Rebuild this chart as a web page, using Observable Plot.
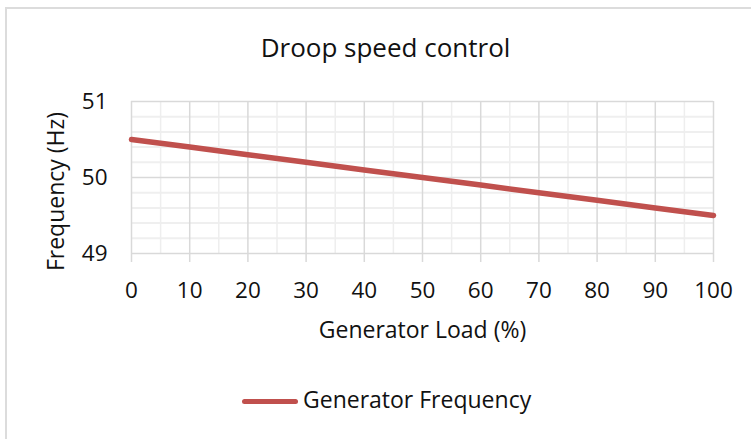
<!DOCTYPE html>
<html>
<head>
<meta charset="utf-8">
<script src="https://cdn.jsdelivr.net/npm/d3@7"></script>
<script src="https://cdn.jsdelivr.net/npm/@observablehq/plot@0.6"></script>
<style>
  html, body { margin: 0; padding: 0; background: #fff; }
  #chart { position: relative; width: 751px; height: 439px; overflow: hidden; font-family: "Open Sans", sans-serif; }
  #border { position: absolute; left: 5px; top: 7px; width: 900px; height: 600px; border: 2px solid #dcdcdc; box-sizing: border-box; }
  #plot { position: absolute; left: 0; top: 0; }
  #legend { position: absolute; left: 0; top: 375px; width: 751px; height: 64px; }
  #legend .swatch { position: absolute; left: 242px; top: 24px; width: 56px; height: 5px; border-radius: 3px; background: #C0504D; }
  #legend .label { position: absolute; left: 303px; top: 13px; font-size: 23px; line-height: 1; color: #111; white-space: nowrap; }
</style>
</head>
<body>
<div id="chart">
  <div id="border"></div>
  <div id="plot"></div>
  <div id="legend"><div class="swatch"></div><div class="label"></div></div>
</div>
<script>
const title = "Droop speed control";
const xLabel = "Generator Load (%)";
const yLabel = "Frequency (Hz)";
const seriesName = "Generator Frequency";
const loads = [0, 10, 20, 30, 40, 50, 60, 70, 80, 90, 100];
const frequency = [50.5, 50.4, 50.3, 50.2, 50.1, 50.0, 49.9, 49.8, 49.7, 49.6, 49.5];
const xTicks = [0, 10, 20, 30, 40, 50, 60, 70, 80, 90, 100];
const yTicks = [49, 50, 51];
const xMinor = [5, 15, 25, 35, 45, 55, 65, 75, 85, 95];
const yMinor = [49.2, 49.4, 49.6, 49.8, 50.2, 50.4, 50.6, 50.8];

const data = loads.map((x, i) => ({load: x, freq: frequency[i]}));
const lineColor = "#C0504D";

const chart = Plot.plot({
  width: 751,
  height: 375,
  marginLeft: 131,
  marginRight: 38,
  marginTop: 101,
  marginBottom: 122,
  style: {fontFamily: "'Open Sans', sans-serif", fontSize: "22.5px", color: "#111", background: "transparent"},
  x: {domain: [0, 100], ticks: xTicks, tickSize: 0, tickPadding: 29, tickFormat: "d", label: null},
  y: {domain: [49, 51], ticks: yTicks, tickSize: 0, tickPadding: 24, tickFormat: "d", label: null},
  marks: [
    Plot.ruleY(yMinor, {stroke: "#efefef", strokeWidth: 2}),
    Plot.ruleX(xMinor, {stroke: "#eeeeee", strokeWidth: 1.5}),
    Plot.ruleY(yTicks, {stroke: "#d9d9d9", strokeWidth: 1.5}),
    Plot.ruleX(xTicks, {stroke: "#d9d9d9", strokeWidth: 1.5, insetBottom: -9}),
    Plot.line(data, {x: "load", y: "freq", stroke: lineColor, strokeWidth: 5.5}),
    Plot.text([title], {frameAnchor: "top-left", dx: 254, dy: -53, fontSize: 26, textAnchor: "middle", lineAnchor: "middle", fill: "#111"}),
    Plot.text([xLabel], {frameAnchor: "bottom", dy: 77, fontSize: 23, textAnchor: "middle", lineAnchor: "middle", fill: "#111"}),
    Plot.text([yLabel], {frameAnchor: "left", dx: -75, dy: 14, fontSize: 23, rotate: -90, textAnchor: "middle", lineAnchor: "middle", fill: "#111"})
  ]
});
document.getElementById("plot").appendChild(chart);
document.querySelector("#legend .label").textContent = seriesName;
document.querySelector("#legend .swatch").style.background = lineColor;
</script>
</body>
</html>
